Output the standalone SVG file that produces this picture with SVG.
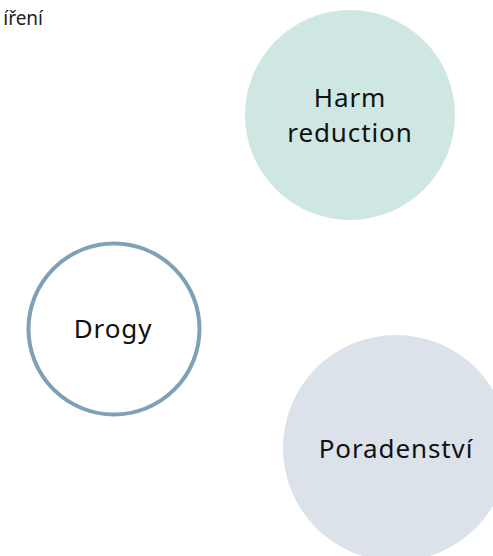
<svg xmlns="http://www.w3.org/2000/svg" width="493" height="556" viewBox="0 0 493 556">
<style>
.t{font-family:"Noto Sans","Lato","DejaVu Sans",sans-serif;fill:#111;text-anchor:middle;font-size:26px;letter-spacing:0.9px}
</style>
<rect width="493" height="556" fill="#fff"/>
<text x="43" y="25" font-family="Noto Sans, sans-serif" font-size="19" fill="#222" text-anchor="end">íření</text>
<g id="harm">
<circle cx="350" cy="115" r="105" fill="#cfe7e3"/>
<text class="t" x="350" y="107">Harm</text>
<text class="t" x="350" y="142">reduction</text>
</g>
<g id="drogy">
<circle cx="114" cy="329" r="85.5" fill="#fff" stroke="#7fa1b7" stroke-width="4"/>
<text class="t" x="113" y="338">Drogy</text>
</g>
<g id="poradenstvi">
<circle cx="396" cy="448" r="113" fill="#dce2ea"/>
<text class="t" x="396" y="458">Poradenství</text>
</g>
<g id="connectors"/>
</svg>
